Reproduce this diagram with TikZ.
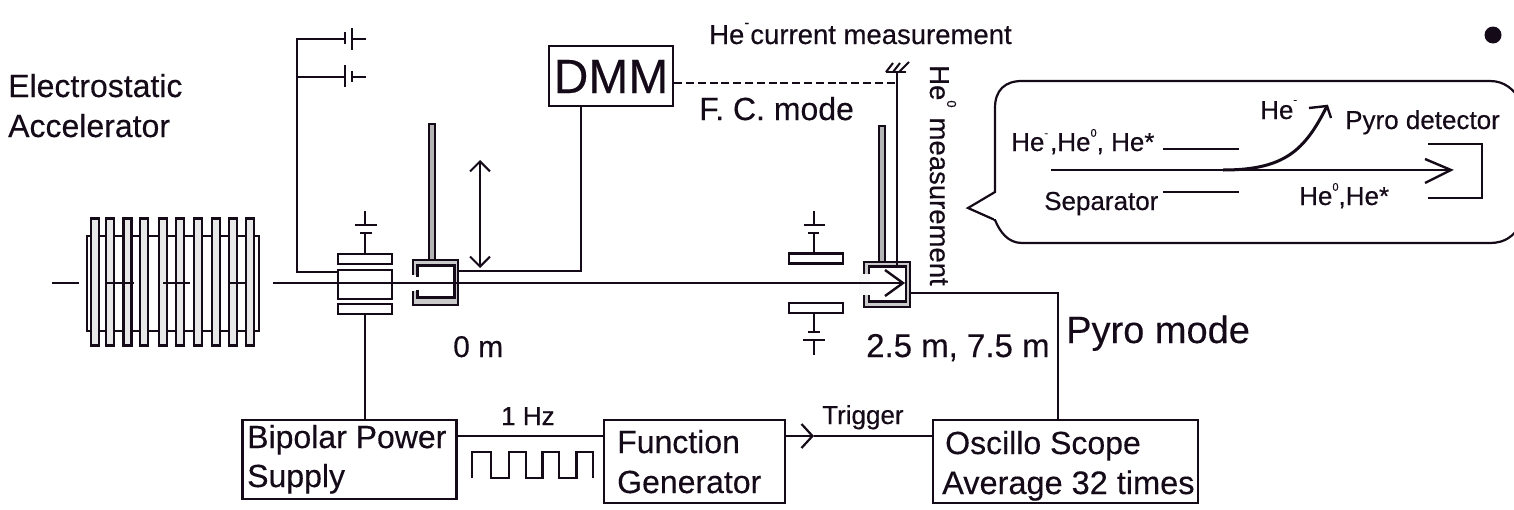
\documentclass[tikz,border=0pt]{standalone}
\usepackage{fontspec}
\setmainfont[FakeBold=0.3]{Liberation Sans}
\usetikzlibrary{arrows.meta,calc}
\definecolor{ink}{HTML}{140A18}
\definecolor{rodgray}{HTML}{B4B4B4}
\newcommand{\fs}[1]{\fontsize{#1}{#1}\selectfont}
\newcommand{\supr}[1]{\raisebox{0.62em}{\fontsize{13}{13}\selectfont #1}}
\tikzset{
  wire/.style={draw=ink,line width=2pt},
  thick wire/.style={draw=ink,line width=2.6pt},
  plate/.style={draw=ink,line width=2.2pt,fill=white,rectangle,inner sep=0pt},
  ring/.style={draw=ink,line width=2.2pt,fill=rodgray!30,rectangle,inner sep=0pt,minimum width=8pt,minimum height=127pt},
  devbox/.style={draw=ink,line width=2.4pt,fill=white,rectangle,inner sep=0pt},
  lbl/.style={text=ink,anchor=base west,inner sep=0pt,font=\fs{32}},
  lblsmall/.style={text=ink,anchor=base west,inner sep=0pt,font=\fs{26}},
  barb/.style={-{Straight Barb[length=11pt,width=24pt,line width=2.2pt]}},
  rod/.style={draw=ink,line width=1.8pt,fill=rodgray,rectangle,inner sep=0pt,minimum width=6pt},
}
\begin{document}
\begin{tikzpicture}[x=1pt,y=-1pt]
\useasboundingbox (0,0) rectangle (1514,509);
% ---- accelerator
\node[lbl] (tAcc1) at (8,97) {Electrostatic};
\node[lbl] (tAcc2) at (8,137) {Accelerator};
\node[draw=ink,line width=2pt,fill=white,rectangle,inner sep=0pt,minimum width=172pt,minimum height=95pt] (accbody) at (173,283.5) {};
\foreach \i/\x in {1/95,2/110,3/127.5,4/144,5/163,6/180,7/198,8/216,9/233,10/250}
  \node[ring] (ring\i) at (\x,282) {};
\coordinate (b0a) at (52,283);
\coordinate (b0b) at (79,283);
\coordinate (b1a) at (107,283);
\coordinate (b1b) at (134,283);
\coordinate (b2a) at (163,283);
\coordinate (b2b) at (190,283);
\coordinate (b3a) at (229,283);
\coordinate (b3b) at (247,283);
\foreach \a/\b in {b0a/b0b,b1a/b1b,b2a/b2b,b3a/b3b} \draw[wire] (\a) -- (\b);
% ---- deflector
\node[plate,minimum width=54pt,minimum height=10pt] (dtop) at (365,259) {};
\node[plate,minimum width=54pt,minimum height=29pt] (dmid) at (365,284.5) {};
\node[plate,minimum width=54pt,minimum height=10pt] (dbot) at (365,309) {};
% deflector bias
\coordinate (dst) at (365,233);
\coordinate (dbarA1) at (360,233); \coordinate (dbarA2) at (372,233);
\coordinate (dbarB1) at (355,225); \coordinate (dbarB2) at (377,225);
\coordinate (dtip) at (365,211); \coordinate (dneck) at (365,225);
\draw[wire] (dtop.north) -- (dst);
\draw[wire] (dbarA1) -- (dbarA2);
\draw[wire] (dbarB1) -- (dbarB2);
\draw[wire] (dneck) -- (dtip);
% capacitors and bus
\coordinate (capA) at (345,39); \coordinate (capB) at (345,77);
\coordinate (busTop) at (297,39); \coordinate (busB) at (297,77); \coordinate (busEnd) at (297,272);
\coordinate (dIn) at (338,272);
\draw[thick wire] (capA) -- (busTop) -- (busEnd) -- (dIn);
\draw[wire] (busB) -- (capB);
\draw[wire] (345,32) -- (345,44);
\draw[wire] (352,28) -- (352,50);
\draw[wire] (352,39) -- (366,39);
\draw[wire] (345,65) -- (345,87);
\draw[wire] (352,71) -- (352,82);
\draw[wire] (352,77) -- (366,77);
% ---- cup 1
\node[rod,minimum height=136pt] (rod1) at (432,192) {};
\fill[rodgray!70] (413,260) rectangle (458,305);
\draw[draw=ink,line width=1.6pt] (413,276) -- (413,260) -- (458,260) -- (458,305) -- (413,305) -- (413,290);
\fill[white] (417.5,265) rectangle (454.5,298);
\fill[white] (410,275) rectangle (419,291);
\node[inner sep=0pt,minimum width=38pt,minimum height=33pt] (cup1) at (436,281.5) {};
\draw[thick wire] (417.5,277) -- (417.5,265.5) -- (454.5,265.5) -- (454.5,297.5) -- (417.5,297.5) -- (417.5,290);
% ---- second deflector
\node[plate,minimum width=54pt,minimum height=10pt] (etop) at (816,258.5) {};
\node[plate,minimum width=54pt,minimum height=10pt] (ebot) at (816,308) {};
\coordinate (e1) at (814,233); \coordinate (e2) at (814,225); \coordinate (e3) at (814,211);
\draw[wire] (etop.north -| e1) -- (e1);
\draw[wire] (808,233) -- (819,233);
\draw[wire] (804,225) -- (825,225);
\draw[wire] (e2) -- (e3);
\coordinate (e4) at (814,332); \coordinate (e5) at (814,340); \coordinate (e6) at (814,355);
\draw[wire] (ebot.south -| e4) -- (e4);
\draw[wire] (808,332) -- (820,332);
\draw[wire] (803,340) -- (825,340);
\draw[wire] (e5) -- (e6);
% ---- cup 2
\node[rod,minimum height=136pt] (rod2) at (882,194) {};
\fill[rodgray!70] (864,262) rectangle (910,307);
\draw[draw=ink,line width=1.6pt] (864,275) -- (864,262) -- (910,262) -- (910,307) -- (864,307) -- (864,294);
\fill[white] (869,267) rectangle (906,302);
\fill[white!90!rodgray] (859,274) rectangle (870,295);
\node[inner sep=0pt,minimum width=46pt,minimum height=45pt] (cup2) at (887,284.5) {};
\draw[thick wire] (869,274) -- (869,266.5) -- (906,266.5) -- (906,301.5) -- (869,301.5) -- (869,295);
% ---- beam
\coordinate (beamS) at (273,283);
\coordinate (beamE) at (903,283);
\draw[wire] (beamS) -- (dmid.west |- beamS);
\draw[wire] (dmid.west |- beamS) -- (beamE);
\draw[draw=ink,line width=2.4pt] (885,270) -- (beamE) -- (885,296);
% ---- DMM
\node[devbox,minimum width=124pt,minimum height=60pt] (dmm) at (611,76) {};
\node[text=ink,inner sep=0pt,font=\fs{48},anchor=base] (dmmT) at (611,93) {DMM};
\coordinate (cup1out) at (458,271);
\coordinate (dmmDown) at (581,271);
\draw[wire] (cup1out) -- (dmmDown) -- (dmmDown |- dmm.south);
\coordinate (arrT) at (480,160); \coordinate (arrB) at (480,268);
\draw[draw=ink,line width=2pt,{Straight Barb[length=10pt,width=20pt,line width=2pt]}-{Straight Barb[length=10pt,width=20pt,line width=2pt]}] (arrT) -- (arrB);
% ---- He- wire
\coordinate (gnd) at (897,72);
\coordinate (cup2top) at (897,266);
\draw[wire,line width=2.2pt] (gnd) -- (cup2top);
\draw[draw=ink,line width=2.2pt,dash pattern=on 8pt off 3.8pt] (dmm.east |- 0,83) -- (897,83);
\draw[wire] (886,72) -- (906,72);
\draw[wire] (886,72) -- (893,63);
\draw[wire] (893,72) -- (900,63);
\draw[wire] (899,72) -- (909,62);
% ---- pyro wire
\coordinate (cup2out) at (910,293);
\coordinate (pyroC) at (1058,293);
% ---- lower boxes
\node[devbox,minimum width=214pt,minimum height=79pt] (bps) at (349.5,459.5) {};
\node[devbox,minimum width=181pt,minimum height=83pt] (fg) at (694.5,461.5) {};
\node[devbox,minimum width=265pt,minimum height=83pt] (scope) at (1065.5,461.5) {};
\draw[wire] (cup2out) -- (pyroC) -- (pyroC |- scope.north);
\draw[wire] (dbot.south) -- (dbot.south |- bps.north);
\coordinate (bpsOut) at (457,436);
\draw[wire] (bpsOut) -- (bpsOut -| fg.west);
\coordinate (fgOut) at (785,436);
\coordinate (trigA) at (814,436);
\draw[wire,barb] (fgOut) -- (trigA);
\draw[wire] (trigA) -- (trigA -| scope.west);
\draw[draw=ink,line width=2.2pt] (472,478) -- (472,452) -- (491,452) -- (491,478) -- (509,478) -- (509,452) -- (526,452) -- (526,478) -- (542.5,478) -- (542.5,452) -- (559,452) -- (559,478) -- (576.4,478) -- (576.4,452) -- (593,452) -- (593,478);
% ---- labels
\node[lbl,font=\fs{27.5}] (tHeCur) at (709,44) {He\raisebox{0.6em}{\fontsize{15}{15}\selectfont -}\hspace{1pt}current measurement};
\node[lbl] (tFC) at (699,120) {F. C. mode};
\node[lbl,font=\fs{27.5},rotate=-90] (tHe0) at (930,65) {He\supr{0}\hspace{10pt}measurement};
\node[lbl,font=\fs{38}] (tPyro) at (1066,343) {Pyro mode};
\node[lbl,font=\fs{33}] (tDist) at (866,357) {2.5 m, 7.5 m};
\node[lbl,font=\fs{30}] (t0m) at (453,357) {0 m};
\node[lblsmall] (t1Hz) at (501,425) {1 Hz};
\node[lblsmall] (tTrig) at (822,424) {Trigger};
\node[lbl] (tBps1) at (247,448) {Bipolar Power};
\node[lbl] (tBps2) at (247,487) {Supply};
\node[lbl] (tFg1) at (617,453) {Function};
\node[lbl] (tFg2) at (617,493) {Generator};
\node[lbl] (tSc1) at (945,454) {Oscillo Scope};
\node[lbl,font=\fs{32.5}] (tSc2) at (942,494) {Average 32 times};
\fill[ink] (1493,35) circle (8.5pt);
% ---- bubble
\coordinate (bA) at (995,192);
\coordinate (bTip) at (968,208);
\coordinate (bB) at (995,220);
\draw[wire,fill=white,line width=2.2pt] (bA) -- (995,108) .. controls (995,90) and (1005,81) .. (1022,81) -- (1490,81) .. controls (1505,81) and (1514,90) .. (1520,100) -- (1520,225) .. controls (1514,236) and (1505,243) .. (1490,243) -- (1022,243) .. controls (1008,243) and (1000,232) .. (bB) -- (bTip) -- cycle;
\fill[white] (994,194) rectangle (997,219);
\node[lblsmall] (tMix) at (1011,151) {He\raisebox{0.55em}{\fontsize{11}{11}\selectfont -}\hspace{2pt},He\raisebox{0.55em}{\fontsize{11}{11}\selectfont 0}, He*};
\node[lblsmall] (tSep) at (1044,210) {Separator};
\node[lblsmall] (tHeM) at (1260,119) {He\raisebox{0.6em}{\fontsize{11}{11}\selectfont -}};
\node[lblsmall] (tPyD) at (1345,129) {Pyro detector};
\node[lblsmall] (tHe0S) at (1299,205) {He\raisebox{0.55em}{\fontsize{11}{11}\selectfont 0},He*};
\coordinate (s1a) at (1163,149); \coordinate (s1b) at (1239,149);
\coordinate (s2a) at (1163,192); \coordinate (s2b) at (1239,192);
\draw[thick wire] (s1a) -- (s1b);
\draw[thick wire] (s2a) -- (s2b);
\coordinate (inS) at (1051,170); \coordinate (inE) at (1451,170);
\draw[wire,line width=2.4pt] (inS) -- (inE);
\draw[draw=ink,line width=2.4pt] (1425,159) -- (inE) -- (1425,183);
\draw[draw=ink,line width=2.2pt] (1428,144) -- (1482,144) -- (1482,198) -- (1428,198);
\coordinate (cvS) at (1223,170); \coordinate (cvE) at (1327,106);
\draw[draw=ink,line width=3pt] (cvS) .. controls (1285,170) and (1305,150) .. (cvE);
\draw[draw=ink,line width=2.4pt] (1309,108) -- (cvE) -- (1331,118);
\end{tikzpicture}
\end{document}
